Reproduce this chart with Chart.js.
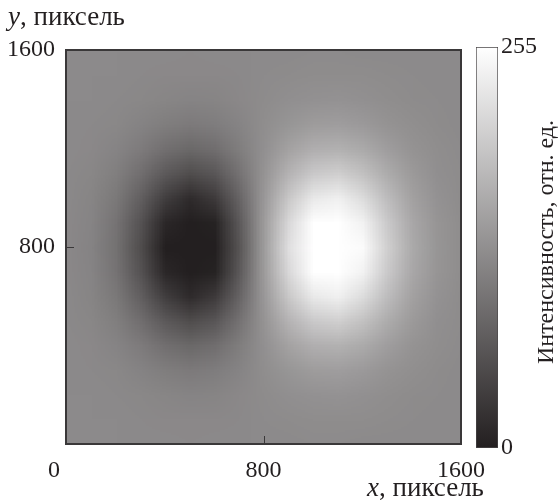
<!DOCTYPE html>
<html>
<head>
<meta charset="utf-8">
<script src="https://cdn.jsdelivr.net/npm/chart.js@4.4.1/dist/chart.umd.min.js"></script>
<style>
  html, body { margin: 0; padding: 0; background: #fff; }
  #wrap { position: relative; width: 558px; height: 501px; overflow: hidden; }
  #wrap canvas { position: absolute; top: 0; }
  #main { left: 0; }
  #bar { left: 460px; }
</style>
</head>
<body>
<div id="wrap">
  <canvas id="main" width="558" height="501"></canvas>
  <canvas id="bar" width="98" height="501"></canvas>
</div>
<script>
// grid nodes, pixel coordinates of the frame
const X_POS = [0, 100, 200, 300, 400, 500, 600, 700, 800, 900, 1000, 1100, 1200, 1300, 1400, 1500, 1600];
const Y_POS = [0, 100, 200, 300, 400, 500, 600, 700, 800, 900, 1000, 1100, 1200, 1300, 1400, 1500, 1600];
const X_TICKS = [0, 800, 1600];
const Y_TICKS = [800, 1600];
const LEVEL_TICKS = [0, 255];

// intensity, one row per Y_POS (bottom row first)
const INTENSITY = [
  [122, 122, 122, 122, 122, 121, 122, 122, 122, 122, 123, 123, 122, 122, 122, 122, 122],
  [122, 122, 122, 121, 120, 120, 120, 121, 123, 124, 125, 125, 125, 124, 123, 122, 122],
  [122, 122, 121, 119, 117, 115, 116, 120, 124, 128, 130, 131, 129, 126, 124, 123, 122],
  [122, 121, 119, 114, 108, 104, 107, 115, 126, 135, 142, 144, 139, 132, 127, 124, 122],
  [122, 120, 115, 105, 91, 84, 90, 108, 129, 149, 163, 166, 158, 144, 132, 126, 123],
  [121, 118, 109, 90, 66, 52, 63, 95, 133, 169, 194, 200, 184, 160, 140, 128, 124],
  [121, 116, 102, 73, 35, 14, 31, 79, 138, 192, 230, 238, 215, 179, 148, 131, 124],
  [120, 115, 96, 58, 9, 0, 4, 66, 142, 211, 255, 255, 240, 194, 155, 134, 125],
  [120, 114, 94, 52, 0, 0, 0, 61, 143, 219, 255, 255, 250, 200, 158, 135, 125],
  [120, 115, 96, 58, 9, 0, 4, 66, 142, 211, 255, 255, 240, 194, 155, 134, 125],
  [121, 116, 102, 73, 35, 14, 31, 79, 138, 192, 230, 238, 215, 179, 148, 131, 124],
  [121, 118, 109, 90, 66, 52, 63, 95, 133, 169, 194, 200, 184, 160, 140, 128, 124],
  [122, 120, 115, 105, 91, 84, 90, 108, 129, 149, 163, 166, 158, 144, 132, 126, 123],
  [122, 121, 119, 114, 108, 104, 107, 115, 126, 135, 142, 144, 139, 132, 127, 124, 122],
  [122, 122, 121, 119, 117, 115, 116, 120, 124, 128, 130, 131, 129, 126, 124, 123, 122],
  [122, 122, 122, 121, 120, 120, 120, 121, 123, 124, 125, 125, 125, 124, 123, 122, 122],
  [122, 122, 122, 122, 122, 121, 122, 122, 122, 122, 123, 123, 122, 122, 122, 122, 122],
];

const FONT = '"Liberation Serif", "Times New Roman", serif';
const INK = '#231f20';
const LOW = [35, 31, 32];
const HIGH = [255, 255, 255];

function grayFor(v) {
  var t = Math.max(0, Math.min(255, v)) / 255;
  return [0, 1, 2].map(function (k) { return Math.round(LOW[k] + (HIGH[k] - LOW[k]) * t); });
}

var cells = [];
Y_POS.forEach(function (y, j) {
  X_POS.forEach(function (x, i) {
    cells.push({ x: x, y: y, v: INTENSITY[j][i], i: i, j: j });
  });
});

// paints the cells into a tiny bitmap and lets the canvas smooth it over the frame
const heatmapPlugin = {
  id: 'heatmap',
  beforeDatasetsDraw: function (chart) {
    var xs = chart.scales.x, ys = chart.scales.y, area = chart.chartArea, ctx = chart.ctx;
    var nx = X_POS.length, ny = Y_POS.length;
    var off = document.createElement('canvas');
    off.width = nx; off.height = ny;
    var octx = off.getContext('2d');
    var img = octx.createImageData(nx, ny);
    chart.data.datasets[0].data.forEach(function (c) {
      var g = grayFor(c.v);
      var p = ((ny - 1 - c.j) * nx + c.i) * 4;
      img.data[p] = g[0]; img.data[p + 1] = g[1]; img.data[p + 2] = g[2]; img.data[p + 3] = 255;
    });
    octx.putImageData(img, 0, 0);
    var hx = (X_POS[1] - X_POS[0]) / 2, hy = (Y_POS[1] - Y_POS[0]) / 2;
    var left = xs.getPixelForValue(X_POS[0] - hx);
    var right = xs.getPixelForValue(X_POS[nx - 1] + hx);
    var top = ys.getPixelForValue(Y_POS[ny - 1] + hy);
    var bottom = ys.getPixelForValue(Y_POS[0] - hy);
    ctx.save();
    ctx.beginPath();
    ctx.rect(area.left, area.top, area.right - area.left, area.bottom - area.top);
    ctx.clip();
    ctx.imageSmoothingEnabled = true;
    ctx.drawImage(off, left, top, right - left, bottom - top);
    ctx.restore();
  },
  afterDatasetsDraw: function (chart) {
    var xs = chart.scales.x, ys = chart.scales.y, a = chart.chartArea, ctx = chart.ctx;
    ctx.save();
    ctx.strokeStyle = '#3a3839';
    ctx.lineWidth = 1;
    X_TICKS.forEach(function (v) {
      if (v <= xs.min || v >= xs.max) return;
      var px = Math.round(xs.getPixelForValue(v)) + 0.5;
      ctx.beginPath(); ctx.moveTo(px, a.bottom); ctx.lineTo(px, a.bottom - 8); ctx.stroke();
    });
    Y_TICKS.forEach(function (v) {
      if (v <= ys.min || v >= ys.max) return;
      var py = Math.round(ys.getPixelForValue(v)) + 0.5;
      ctx.beginPath(); ctx.moveTo(a.left, py); ctx.lineTo(a.left + 8, py); ctx.stroke();
    });
    ctx.lineWidth = 2;
    ctx.strokeRect(a.left, a.top, a.right - a.left, a.bottom - a.top);
    ctx.restore();
  },
  afterDraw: function (chart) {
    var ctx = chart.ctx;
    function name(letter, rest, x, y) {
      ctx.font = 'italic 27px ' + FONT;
      ctx.fillText(letter, x, y);
      var w = ctx.measureText(letter).width;
      ctx.font = '27px ' + FONT;
      ctx.fillText(rest, x + w, y);
    }
    ctx.save();
    ctx.fillStyle = INK;
    ctx.textAlign = 'left';
    ctx.textBaseline = 'alphabetic';
    name('y', ', пиксель', 8, 25);
    name('x', ', пиксель', 367, 496);
    ctx.restore();
  },
};

new Chart(document.getElementById('main'), {
  type: 'scatter',
  data: { datasets: [{ data: cells, pointRadius: 0, pointHoverRadius: 0 }] },
  options: {
    responsive: false,
    animation: false,
    events: [],
    layout: { padding: { top: 50, right: 97, bottom: 0, left: 0 } },
    plugins: { legend: { display: false }, tooltip: { enabled: false } },
    scales: {
      x: {
        type: 'linear', min: 0, max: 1600,
        afterBuildTicks: function (s) { s.ticks = X_TICKS.map(function (v) { return { value: v }; }); },
        afterFit: function (s) { s.height = 57; },
        grid: { display: false, drawTicks: false },
        border: { display: false },
        ticks: {
          padding: 12, color: INK, font: { family: FONT, size: 24 }, maxRotation: 0,
          callback: function (v) { return v === 0 ? '0    ' : String(v); },
        },
      },
      y: {
        type: 'linear', min: 0, max: 1600,
        afterBuildTicks: function (s) { s.ticks = Y_TICKS.map(function (v) { return { value: v }; }); },
        afterFit: function (s) { s.width = 66; },
        grid: { display: false, drawTicks: false },
        border: { display: false },
        ticks: {
          padding: 11, color: INK, font: { family: FONT, size: 24 },
          callback: function (v) { return String(v); },
        },
      },
    },
  },
  plugins: [heatmapPlugin],
});

// colour bar: one floating bar spanning the whole level range
const barTitlePlugin = {
  id: 'barTitle',
  afterDraw: function (chart) {
    var ctx = chart.ctx;
    ctx.save();
    ctx.translate(87, 242);
    ctx.rotate(-Math.PI / 2);
    ctx.fillStyle = INK;
    ctx.font = '24px ' + FONT;
    ctx.textAlign = 'center';
    ctx.textBaseline = 'middle';
    ctx.fillText('Интенсивность, отн. ед.', 0, 0);
    ctx.restore();
  },
};

new Chart(document.getElementById('bar'), {
  type: 'bar',
  data: {
    labels: ['level'],
    datasets: [{
      data: [[LEVEL_TICKS[0], LEVEL_TICKS[1]]],
      backgroundColor: function (context) {
        var area = context.chart.chartArea;
        if (!area) return '#888';
        var g = context.chart.ctx.createLinearGradient(0, area.bottom, 0, area.top);
        g.addColorStop(0, 'rgb(' + grayFor(LEVEL_TICKS[0]).join(',') + ')');
        g.addColorStop(1, 'rgb(' + grayFor(LEVEL_TICKS[1]).join(',') + ')');
        return g;
      },
      borderColor: '#4a4748',
      borderWidth: 1,
      borderSkipped: false,
      barPercentage: 1,
      categoryPercentage: 1,
    }],
  },
  options: {
    responsive: false,
    animation: false,
    events: [],
    layout: { padding: { top: 47, right: 0, bottom: 53, left: 16 } },
    plugins: { legend: { display: false }, tooltip: { enabled: false } },
    scales: {
      x: { display: false },
      y: {
        position: 'right', min: 0, max: 255,
        afterBuildTicks: function (s) { s.ticks = LEVEL_TICKS.map(function (v) { return { value: v }; }); },
        afterFit: function (s) { s.width = 60; },
        grid: { display: false, drawTicks: false },
        border: { display: false },
        ticks: { padding: 3, color: INK, font: { family: FONT, size: 24 } },
      },
    },
  },
  plugins: [barTitlePlugin],
});
</script>
</body>
</html>
